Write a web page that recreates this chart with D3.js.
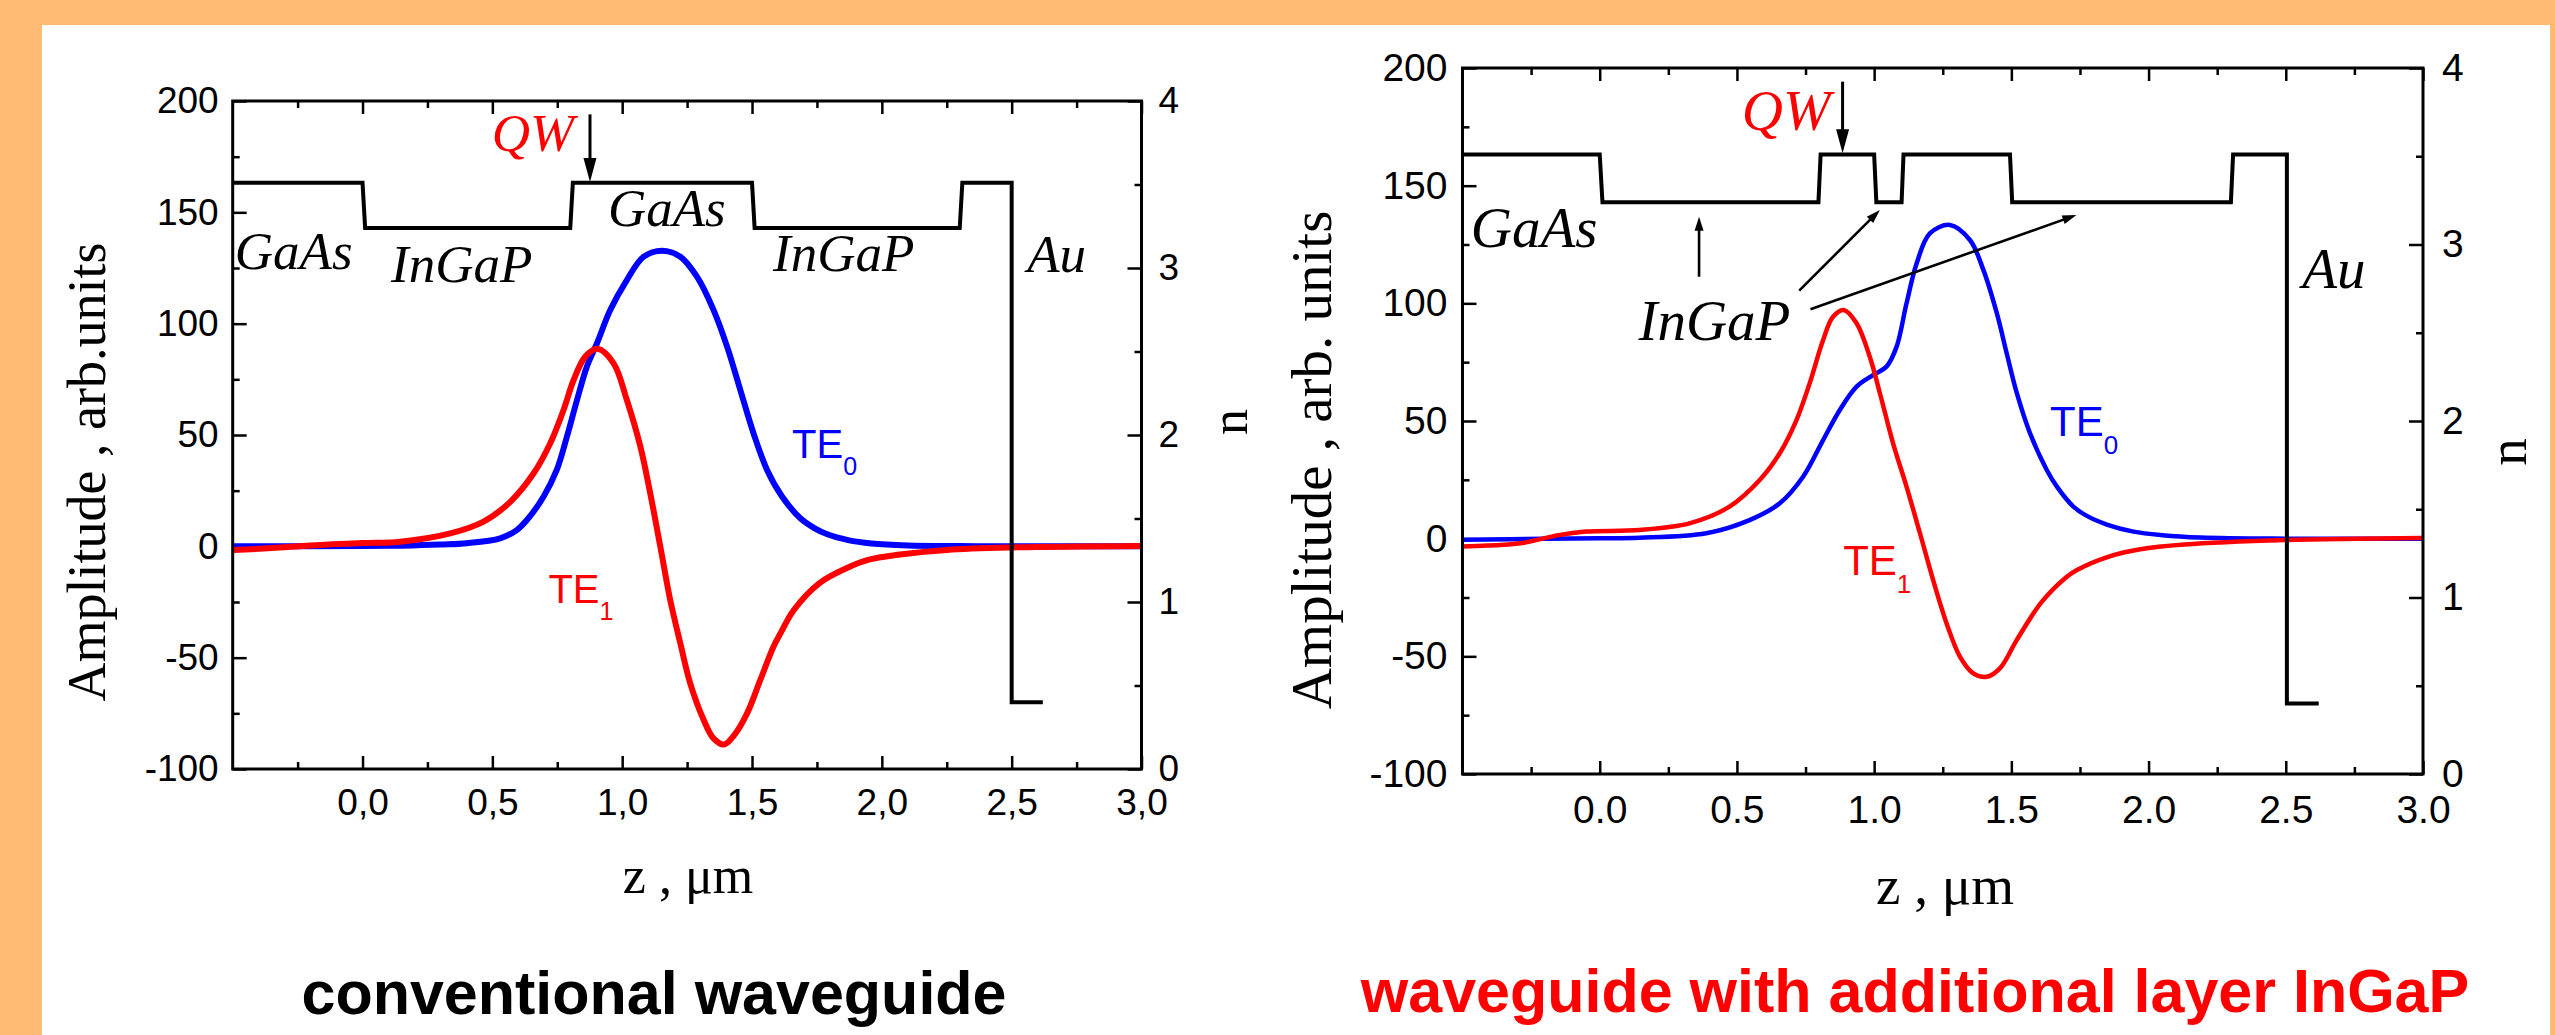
<!DOCTYPE html>
<html>
<head>
<meta charset="utf-8">
<script src="https://cdn.jsdelivr.net/npm/d3@7"></script>
<style>
  body { margin: 0; background: #fff; }
</style>
</head>
<body>
<div id="chart"></div>
<script>
// ---- ticks ----
const zMajor = [0, 0.5, 1, 1.5, 2, 2.5, 3];
const zMinor = [-0.25, 0.25, 0.75, 1.25, 1.75, 2.25, 2.75];
const ampMajor = [-100, -50, 0, 50, 100, 150, 200];
const ampMinor = [-75, -25, 25, 75, 125, 175];
const nMajor = [0, 1, 2, 3, 4];
const nMinor = [0.5, 1.5, 2.5, 3.5];

// ---- conventional waveguide ----
const convProfileZ = [-0.5, 0, 0.01, 0.8, 0.81, 1.5, 1.51, 2.3, 2.31, 2.5, 2.5, 2.62];
const convProfileN = [3.51, 3.51, 3.24, 3.24, 3.51, 3.51, 3.24, 3.24, 3.51, 3.51, 0.40, 0.40];
const convTE0 = [[-0.5, 0], [0, 0.1], [0.15, 0.3], [0.3, 0.8], [0.402, 1.4], [0.53, 3.6], [0.594, 7.3],
  [0.633, 11.8], [0.697, 22.3], [0.748, 34.3], [0.787, 49.2], [0.826, 65.7], [0.864, 80.7], [0.903, 91.2],
  [0.954, 106.1], [1.018, 119.6], [1.083, 130.1], [1.153, 132.8], [1.224, 130.1], [1.288, 121.1],
  [1.352, 106.1], [1.404, 89.7], [1.455, 70.2], [1.506, 50.7], [1.558, 34.3], [1.615, 22.5], [1.686, 12.6],
  [1.74, 8.2], [1.79, 5.4], [1.87, 2.8], [1.96, 1.3], [2.1, 0.4], [2.3, 0.1], [2.5, 0], [3.0, 0]];
const convTE1 = [[-0.5, -1.6], [-0.35, -0.8], [-0.2, 0.4], [0, 1.5], [0.145, 2.1], [0.338, 5.8], [0.466, 11.1],
  [0.569, 20], [0.659, 32.8], [0.723, 46.3], [0.774, 61.2], [0.813, 74.7], [0.858, 85.2], [0.905, 88.7],
  [0.967, 82.2], [1.018, 65.7], [1.07, 44.8], [1.108, 23.8], [1.147, -0.2], [1.185, -24.1], [1.224, -43.6],
  [1.262, -61.5], [1.314, -78], [1.35, -86], [1.392, -89], [1.43, -85], [1.481, -75], [1.532, -60],
  [1.583, -45], [1.61, -39], [1.661, -28.6], [1.76, -16.5], [1.87, -9.5], [1.95, -6], [2.06, -3.8],
  [2.25, -1.6], [2.5, -0.5], [3.0, 0.2]];

// ---- waveguide with additional InGaP layer ----
const addProfileZ = [-0.5, 0, 0.01, 0.797, 0.805, 1.0, 1.008, 1.1, 1.107, 1.495, 1.503, 2.3, 2.308, 2.504, 2.504, 2.62];
const addProfileN = [3.51, 3.51, 3.24, 3.24, 3.51, 3.51, 3.24, 3.24, 3.51, 3.51, 3.24, 3.24, 3.51, 3.51, 0.40, 0.40];
const addTE0 = [[-0.5, -0.5], [-0.2, 0], [0, 0.2], [0.145, 0.4], [0.388, 2.3], [0.546, 7.9], [0.656, 15],
  [0.741, 26.3], [0.814, 41.9], [0.875, 54.7], [0.936, 64.6], [0.996, 69.5], [1.045, 73.1], [1.082, 81.6],
  [1.118, 100], [1.155, 117], [1.203, 129.7], [1.276, 133.3], [1.349, 126.9], [1.398, 114.2], [1.447, 95.8],
  [1.483, 78.8], [1.52, 61.8], [1.568, 44.8], [1.629, 29.2], [1.666, 22.1], [1.726, 13.6], [1.77, 10],
  [1.848, 6.0], [1.945, 3.0], [2.05, 1.5], [2.189, 0.5], [2.5, 0], [3.0, 0]];
const addTE1 = [[-0.5, -3.3], [-0.35, -2.6], [-0.275, -1.7], [-0.15, 1.5], [-0.05, 3.0], [0.145, 3.7],
  [0.327, 6.5], [0.473, 13.6], [0.583, 24.9], [0.656, 36.3], [0.717, 50.4], [0.765, 66], [0.814, 84.4],
  [0.85, 94.3], [0.889, 97.2], [0.936, 91.5], [0.984, 77.3], [1.021, 61.8], [1.069, 40.5], [1.118, 22.1],
  [1.167, 2.3], [1.215, -17.6], [1.264, -36], [1.313, -50.2], [1.361, -57.2], [1.41, -58.7], [1.459, -55],
  [1.52, -43], [1.61, -27], [1.702, -16.2], [1.739, -13.3], [1.85, -7.8], [1.97, -4.5], [2.13, -2.5],
  [2.5, -0.6], [3.0, 0.3]];

const SANS = "'Liberation Sans', Arial, Helvetica, sans-serif";
const SERIF = "'Liberation Serif', 'Times New Roman', Times, serif";

const W = 2555, H = 1035;
const svg = d3.select('#chart').append('svg').attr('width', W).attr('height', H);
svg.append('rect').attr('width', W).attr('height', H).attr('fill', '#FFBA73');
svg.append('rect').attr('x', 42).attr('y', 25).attr('width', 2508).attr('height', H - 25).attr('fill', '#fff');

const panels = [
  {
    x0: 232.7, x1: 1141.5, y0: 101, y1: 769, decimal: ',',
    tickFont: 37, padX: 20, padY: 14, padN: 17,
    frameW: 3, curveW: 6, profileW: 4,
    profileZ: convProfileZ, profileN: convProfileN, te0: convTE0, te1: convTE1,
    annFont: 53, labels: [
      { t: 'GaAs', z: -0.492, a: 124.4 }, { t: 'InGaP', z: 0.11, a: 118.9 },
      { t: 'GaAs', z: 0.945, a: 144 }, { t: 'InGaP', z: 1.581, a: 123.8 },
      { t: 'Au', z: 2.56, a: 123.3 }
    ],
    qw: { z: 0.815, a: 177.7 },
    arrows: [{ z1: 0.876, a1: 194, z2: 0.876, a2: 163.6, big: true }],
    teFont: 40, subFont: 25, subDy: 17,
    teLabels: [{ sub: '0', color: '#0000FF', z: 1.654, a: 39.5 }, { sub: '1', color: '#FF0000', z: 0.716, a: -25.6 }],
    axisFont: 52, yFont: 54,
    yTitle: { t: 'Amplitude , arb.units', x: 105, y: 472 },
    nTitle: { x: 1247, y: 422 },
    xTitle: { x: 688, y: 893 },
    title: { t: 'conventional waveguide', x: 654, y: 1014, color: '#000' }
  },
  {
    x0: 1462.5, x1: 2423, y0: 68, y1: 774, decimal: '.',
    tickFont: 39, padX: 21, padY: 15, padN: 19,
    frameW: 3, curveW: 4.5, profileW: 4,
    profileZ: addProfileZ, profileN: addProfileN, te0: addTE0, te1: addTE1,
    annFont: 57, labels: [
      { t: 'GaAs', z: -0.47, a: 123.8 }, { t: 'InGaP', z: 0.141, a: 84.4 },
      { t: 'Au', z: 2.56, a: 106.4 }
    ],
    qw: { z: 0.841, a: 173.7 },
    arrows: [
      { z1: 0.885, a1: 194.2, z2: 0.885, a2: 163.8, big: true },
      { z1: 0.362, a1: 111.3, z2: 0.362, a2: 136.8 },
      { z1: 0.727, a1: 105.4, z2: 1.021, a2: 139.7 },
      { z1: 0.768, a1: 97.5, z2: 1.737, a2: 137.5 }
    ],
    teFont: 42, subFont: 26, subDy: 18,
    teLabels: [{ sub: '0', color: '#0000FF', z: 1.641, a: 43.6 }, { sub: '1', color: '#FF0000', z: 0.887, a: -15.4 }],
    axisFont: 55, yFont: 57,
    yTitle: { t: 'Amplitude , arb. units', x: 1331, y: 460 },
    nTitle: { x: 2526, y: 452 },
    xTitle: { x: 1945, y: 904 },
    title: { t: 'waveguide with additional layer InGaP', x: 1915, y: 1012, color: '#FF0000' }
  }
];

function styleAxis(sel, size) {
  sel.select('.domain').remove();
  sel.attr('font-family', SANS).attr('font-size', size);
  sel.selectAll('line').attr('stroke', '#000').attr('stroke-width', 2.5);
  sel.selectAll('text').attr('fill', '#000');
}

function arrow(g, x1, y1, x2, y2, big) {
  const L = big ? 24 : 14, hw = big ? 6.5 : 4.5, sw = big ? 3 : 2.6;
  const dx = x2 - x1, dy = y2 - y1, len = Math.hypot(dx, dy);
  const ux = dx / len, uy = dy / len;
  const bx = x2 - ux * L, by = y2 - uy * L;
  g.append('line').attr('x1', x1).attr('y1', y1)
    .attr('x2', x2 - ux * L * 0.6).attr('y2', y2 - uy * L * 0.6)
    .attr('stroke', '#000').attr('stroke-width', sw);
  g.append('path')
    .attr('d', `M${x2},${y2}L${bx - uy * hw},${by + ux * hw}L${bx + uy * hw},${by - ux * hw}Z`)
    .attr('fill', '#000');
}

function drawPanel(p) {
  const g = svg.append('g');
  const x = d3.scaleLinear().domain([-0.5, 3]).range([p.x0, p.x1]);
  const y = d3.scaleLinear().domain([-100, 200]).range([p.y1, p.y0]);
  const yn = d3.scaleLinear().domain([0, 4]).range([p.y1, p.y0]);
  const fmtZ = d => d.toFixed(1).replace('.', p.decimal);

  // axes: major + minor ticks, all pointing inward
  g.append('g').attr('transform', `translate(0,${p.y1})`)
    .call(d3.axisBottom(x).tickValues(zMajor).tickSizeInner(-13).tickSizeOuter(0).tickPadding(p.padX).tickFormat(fmtZ))
    .call(styleAxis, p.tickFont);
  g.append('g').attr('transform', `translate(0,${p.y1})`)
    .call(d3.axisBottom(x).tickValues(zMinor).tickSize(-7).tickFormat(''))
    .call(styleAxis, p.tickFont);
  g.append('g').attr('transform', `translate(0,${p.y0})`)
    .call(d3.axisTop(x).tickValues(zMajor).tickSize(-13).tickFormat(''))
    .call(styleAxis, p.tickFont);
  g.append('g').attr('transform', `translate(0,${p.y0})`)
    .call(d3.axisTop(x).tickValues(zMinor).tickSize(-7).tickFormat(''))
    .call(styleAxis, p.tickFont);
  g.append('g').attr('transform', `translate(${p.x0},0)`)
    .call(d3.axisLeft(y).tickValues(ampMajor).tickSizeInner(-14).tickSizeOuter(0).tickPadding(p.padY).tickFormat(d => String(d)))
    .call(styleAxis, p.tickFont);
  g.append('g').attr('transform', `translate(${p.x0},0)`)
    .call(d3.axisLeft(y).tickValues(ampMinor).tickSize(-7).tickFormat(''))
    .call(styleAxis, p.tickFont);
  g.append('g').attr('transform', `translate(${p.x1},0)`)
    .call(d3.axisRight(yn).tickValues(nMajor).tickSizeInner(-14).tickSizeOuter(0).tickPadding(p.padN).tickFormat(d => String(d)))
    .call(styleAxis, p.tickFont);
  g.append('g').attr('transform', `translate(${p.x1},0)`)
    .call(d3.axisRight(yn).tickValues(nMinor).tickSize(-7).tickFormat(''))
    .call(styleAxis, p.tickFont);

  // mode profiles
  const line = d3.line().x(d => x(d[0])).y(d => y(d[1])).curve(d3.curveCatmullRom.alpha(0.5));
  g.append('path').datum(p.te0).attr('d', line)
    .attr('fill', 'none').attr('stroke', '#0000FF').attr('stroke-width', p.curveW);
  g.append('path').datum(p.te1).attr('d', line)
    .attr('fill', 'none').attr('stroke', '#FF0000').attr('stroke-width', p.curveW);

  // refractive index profile
  const prof = p.profileZ.map((z, i) => [z, p.profileN[i]]);
  g.append('path').datum(prof)
    .attr('d', d3.line().x(d => x(d[0])).y(d => yn(d[1])))
    .attr('fill', 'none').attr('stroke', '#000').attr('stroke-width', p.profileW)
    .attr('stroke-linejoin', 'miter');

  // frame
  g.append('rect').attr('x', p.x0).attr('y', p.y0)
    .attr('width', p.x1 - p.x0).attr('height', p.y1 - p.y0)
    .attr('fill', 'none').attr('stroke', '#000').attr('stroke-width', p.frameW);

  // layer labels
  g.selectAll('text.layer').data(p.labels).enter().append('text')
    .attr('class', 'layer')
    .attr('x', d => x(d.z)).attr('y', d => y(d.a))
    .attr('font-family', SERIF).attr('font-style', 'italic').attr('font-size', p.annFont)
    .text(d => d.t);
  g.append('text').attr('x', x(p.qw.z)).attr('y', y(p.qw.a))
    .attr('text-anchor', 'end').attr('fill', '#FF0000')
    .attr('font-family', SERIF).attr('font-style', 'italic').attr('font-size', p.annFont)
    .text('QW');
  p.arrows.forEach(a => arrow(g, x(a.z1), y(a.a1), x(a.z2), y(a.a2), a.big));

  // mode labels
  p.teLabels.forEach(l => {
    const t = g.append('text').attr('x', x(l.z)).attr('y', y(l.a))
      .attr('font-family', SANS).attr('font-size', p.teFont).attr('fill', l.color);
    t.append('tspan').text('TE');
    t.append('tspan').attr('font-size', p.subFont).attr('dy', p.subDy).text(l.sub);
  });

  // axis titles
  g.append('text')
    .attr('transform', `translate(${p.yTitle.x},${p.yTitle.y}) rotate(-90)`)
    .attr('text-anchor', 'middle').attr('font-family', SERIF).attr('font-size', p.yFont)
    .style('white-space', 'pre').text(p.yTitle.t);
  g.append('text')
    .attr('transform', `translate(${p.nTitle.x},${p.nTitle.y}) rotate(-90)`)
    .attr('text-anchor', 'middle').attr('font-family', SERIF).attr('font-size', p.axisFont)
    .text('n');
  g.append('text').attr('x', p.xTitle.x).attr('y', p.xTitle.y)
    .attr('text-anchor', 'middle').attr('font-family', SERIF).attr('font-size', p.axisFont)
    .text('z , \u03BCm');

  // panel caption
  g.append('text').attr('x', p.title.x).attr('y', p.title.y)
    .attr('text-anchor', 'middle').attr('font-family', SANS).attr('font-weight', 'bold')
    .attr('font-size', 61).attr('fill', p.title.color)
    .text(p.title.t);
}

panels.forEach(drawPanel);
</script>
</body>
</html>
